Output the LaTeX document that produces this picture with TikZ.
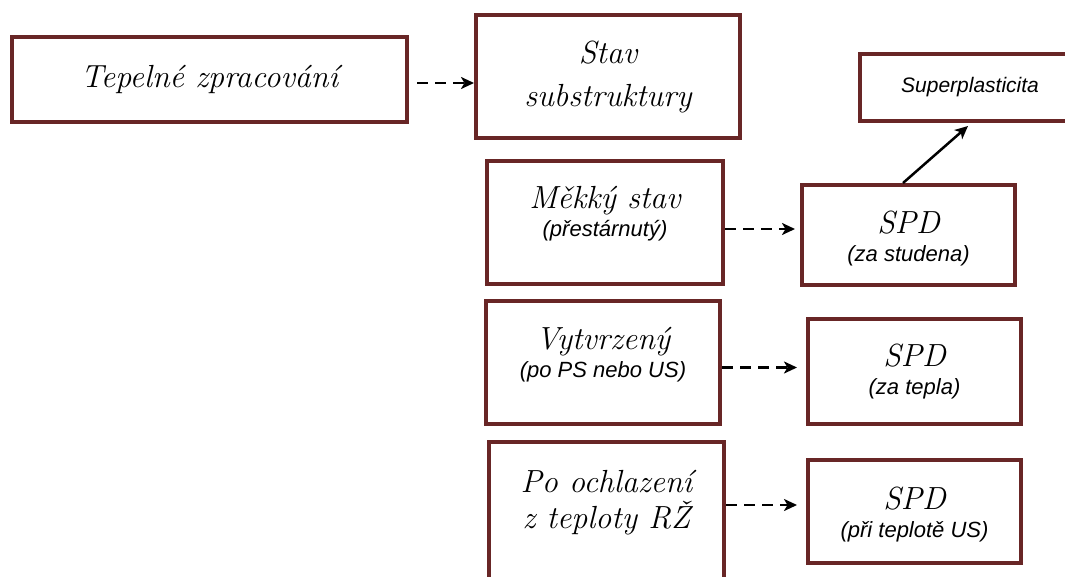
\documentclass[tikz,border=0pt]{standalone}
\usepackage{fontspec}
\setsansfont{Liberation Sans}
\usetikzlibrary{arrows.meta}
\definecolor{boxred}{RGB}{104,38,38}
\newcommand{\subline}[1]{{\sffamily\fontsize{22}{28}\selectfont #1}}

\begin{document}
\begin{tikzpicture}[x=1pt,y=-1pt,
        box/.style={draw=boxred,line width=4pt,inner sep=0pt,align=center,
            font=\itshape\fontsize{32}{28}\selectfont},
        dasharrow/.style={-{Stealth[length=13pt,width=12pt,inset=3.5pt]},line width=2.5pt,dash pattern=on 11pt off 7pt},
        solidarrow/.style={-{Stealth[length=13pt,width=12pt,inset=3.5pt]},line width=2.5pt}]
    \useasboundingbox (0,0) rectangle (1065,576);
    \clip (0,0) rectangle (1065,576);
    \node[box,minimum width=395pt,minimum height=85pt] (zprac) at (209.5,79.5) {Tepelné zpracování};
    \node[box,minimum width=264pt,minimum height=123pt,font=\itshape\fontsize{32}{43}\selectfont] (stav) at (608,76.5) {Stav\\substruktury};
    \node[box,minimum width=220pt,minimum height=67pt,font=\sffamily\itshape\fontsize{21}{23}\selectfont] (superpl) at (970,87.5) {Superplasticita};
    \node[box,minimum width=236pt,minimum height=123pt,text height=32pt,text depth=5pt] (mekky) at (605,222.5) {Měkký stav\\\subline{(přestárnutý)}};
    \node[box,minimum width=213pt,minimum height=100pt,text height=56pt,text depth=4pt] (spdcold) at (908.5,235) {SPD\\\subline{(za studena)}};
    \node[box,minimum width=234pt,minimum height=123pt,text height=33pt,text depth=4pt] (vytvr) at (603,362.5) {Vytvrzený\\\subline{(po PS nebo US)}};
    \node[box,minimum width=213pt,minimum height=105pt,text height=49pt,text depth=4pt] (spdwarm) at (914.5,371.5) {SPD\\\subline{(za tepla)}};
    \node[box,minimum width=235pt,minimum height=160pt,text height=18pt,text depth=6pt,font=\itshape\fontsize{32}{36}\selectfont] (ochl) at (606.5,522) {Po ochlazení\\z teploty RŽ};
    \node[box,minimum width=213pt,minimum height=103pt,text height=55pt,text depth=4pt] (spdus) at (914.5,511.5) {SPD\\\subline{(při teplotě US)}};
    \draw[dasharrow] ([xshift=8pt,yshift=-3.5pt]zprac.east) -- ([yshift=-6.5pt]stav.west);
    \draw[dasharrow] ([yshift=-6.5pt]mekky.east) -- ([xshift=-5pt,yshift=6pt]spdcold.west);
    \draw[dasharrow] ([yshift=-5pt]vytvr.east) -- ([xshift=-9pt,yshift=4pt]spdwarm.west);
    \draw[dasharrow] ([yshift=17pt]ochl.east) -- ([xshift=-9pt,yshift=6.5pt]spdus.west);
    \draw[solidarrow] ([xshift=-5.5pt]spdcold.north) -- ([xshift=-2pt,yshift=-3pt]superpl.south);
\end{tikzpicture}
\end{document}
